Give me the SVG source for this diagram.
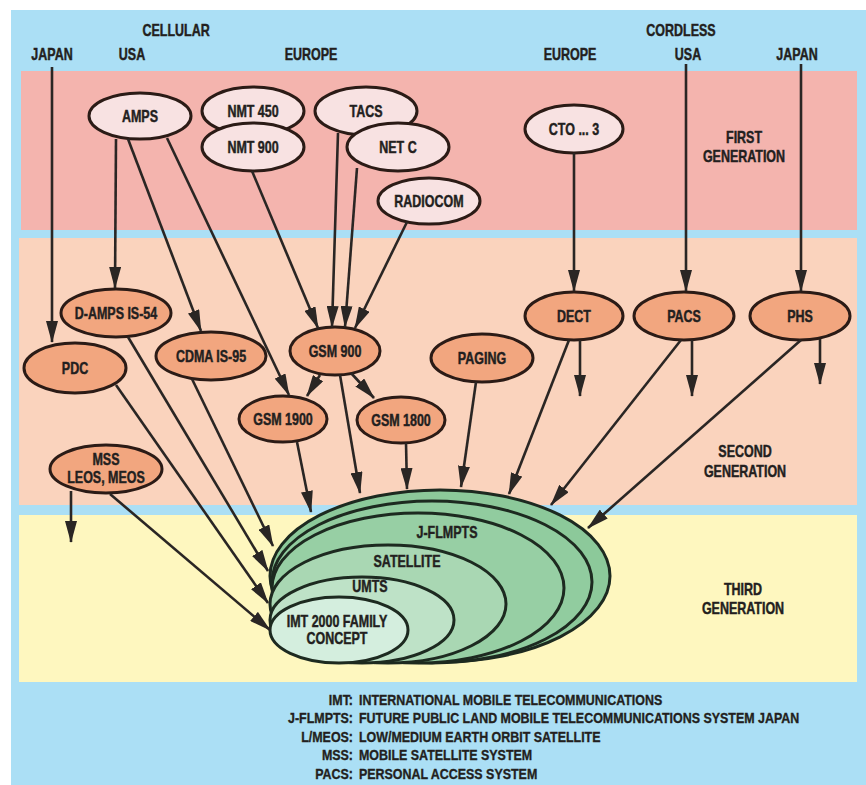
<svg xmlns="http://www.w3.org/2000/svg" width="866" height="785" viewBox="0 0 866 785">
  <defs>
    <style>
      text { font-family: "Liberation Sans", Arial, sans-serif; font-weight: bold; font-size: 16px; fill: #231f20;
             stroke: #231f20; stroke-width: 0.45px;
             transform-box: fill-box; transform-origin: center; transform: scaleX(0.78); }
      .c { text-anchor: middle; }
      .legend { font-size: 15px; stroke-width: 0.35px; transform-origin: left center; transform: scaleX(0.83); }
      .legend.end { transform-origin: right center; }
      .end { text-anchor: end; }
      .gen1 { fill: #f8e2e2; stroke: #2b1b16; stroke-width: 3; }
      .gen2 { fill: #f2a67f; stroke: #2b1b16; stroke-width: 3; }
      .ring { stroke: #1d2a20; stroke-width: 3; }
      .link { fill: none; stroke: #2a2624; stroke-width: 2.6; marker-end: url(#arrow); }
    </style>
    <marker id="arrow" markerUnits="userSpaceOnUse" markerWidth="22" markerHeight="12" viewBox="0 0 22 12" refX="21" refY="6" orient="auto">
      <path d="M0,0 L22,6 L0,12 z" fill="#2a2624"/>
    </marker>
  </defs>

  <!-- backdrop and generation bands -->
  <rect x="0" y="0" width="866" height="785" fill="#ffffff"/>
  <rect x="11" y="10" width="855" height="775" fill="#abdff5"/>
  <rect x="21" y="71" width="836" height="159" fill="#f4b4ae"/>
  <rect x="19" y="238" width="838" height="267" fill="#fad3bd"/>
  <rect x="19" y="515" width="838" height="167" fill="#fef7bf"/>

  <!-- column headings -->
  <g id="headings">
    <text class="c" x="176" y="36">CELLULAR</text>
    <text class="c" x="681" y="36">CORDLESS</text>
    <text class="c" x="52" y="60">JAPAN</text>
    <text class="c" x="132" y="60">USA</text>
    <text class="c" x="311" y="60">EUROPE</text>
    <text class="c" x="570" y="60">EUROPE</text>
    <text class="c" x="688" y="60">USA</text>
    <text class="c" x="797" y="60">JAPAN</text>
  </g>

  <!-- generation labels -->
  <g id="generation-labels">
    <text class="c" x="744" y="143">FIRST</text>
    <text class="c" x="744" y="162">GENERATION</text>
    <text class="c" x="745" y="457">SECOND</text>
    <text class="c" x="745" y="477">GENERATION</text>
    <text class="c" x="743" y="595">THIRD</text>
    <text class="c" x="743" y="614">GENERATION</text>
  </g>

  <!-- third generation: nested IMT-2000 family -->
  <g id="imt2000">
    <ellipse class="ring" cx="440" cy="576" rx="170" ry="86" fill="#8cc99a"/>
    <ellipse class="ring" cx="432" cy="582" rx="160" ry="81" fill="#91cc9f"/>
    <ellipse class="ring" cx="418" cy="588" rx="146" ry="75" fill="#97cfa4"/>
    <ellipse class="ring" cx="388" cy="604" rx="118" ry="59" fill="#a9d7b3"/>
    <ellipse class="ring" cx="362" cy="620" rx="92" ry="43" fill="#bee2c7"/>
    <ellipse class="ring" cx="339" cy="630" rx="69" ry="33" fill="#d4eede"/>
    <text class="c" x="447" y="538">J-FLMPTS</text>
    <text class="c" x="407" y="567">SATELLITE</text>
    <text class="c" x="370" y="592">UMTS</text>
    <text class="c" x="337" y="627">IMT 2000 FAMILY</text>
    <text class="c" x="337" y="644">CONCEPT</text>
  </g>

  <!-- first generation systems -->
  <g id="amps"><ellipse class="gen1" cx="140" cy="116" rx="51" ry="23"/><text class="c" x="140" y="122">AMPS</text></g>
  <g id="nmt450"><ellipse class="gen1" cx="253" cy="111" rx="51" ry="24"/><text class="c" x="253" y="117">NMT 450</text></g>
  <g id="nmt900"><ellipse class="gen1" cx="253" cy="147" rx="51" ry="24"/><text class="c" x="253" y="153">NMT 900</text></g>
  <g id="tacs"><ellipse class="gen1" cx="366" cy="111" rx="51" ry="24"/><text class="c" x="366" y="117">TACS</text></g>
  <g id="netc"><ellipse class="gen1" cx="398" cy="147" rx="51" ry="24"/><text class="c" x="398" y="153">NET C</text></g>
  <g id="radiocom"><ellipse class="gen1" cx="429" cy="201" rx="51" ry="23"/><text class="c" x="429" y="207">RADIOCOM</text></g>
  <g id="cto3"><ellipse class="gen1" cx="574" cy="129" rx="49" ry="24"/><text class="c" x="574" y="135">CTO ... 3</text></g>

  <!-- second generation systems -->
  <g id="damps"><ellipse class="gen2" cx="116" cy="313" rx="55" ry="24"/><text class="c" x="116" y="319">D-AMPS IS-54</text></g>
  <g id="pdc"><ellipse class="gen2" cx="75" cy="368" rx="51" ry="25"/><text class="c" x="75" y="374">PDC</text></g>
  <g id="cdma"><ellipse class="gen2" cx="211" cy="356" rx="55" ry="24"/><text class="c" x="211" y="362">CDMA IS-95</text></g>
  <g id="gsm900"><ellipse class="gen2" cx="335" cy="351" rx="45" ry="24"/><text class="c" x="335" y="357">GSM 900</text></g>
  <g id="gsm1900"><ellipse class="gen2" cx="283" cy="419" rx="44" ry="23"/><text class="c" x="283" y="425">GSM 1900</text></g>
  <g id="gsm1800"><ellipse class="gen2" cx="401" cy="420" rx="44" ry="23"/><text class="c" x="401" y="426">GSM 1800</text></g>
  <g id="mss"><ellipse class="gen2" cx="106" cy="469" rx="56" ry="24"/><text class="c" x="106" y="465">MSS</text><text class="c" x="106" y="483">LEOS, MEOS</text></g>
  <g id="paging"><ellipse class="gen2" cx="482" cy="358" rx="51" ry="24"/><text class="c" x="482" y="364">PAGING</text></g>
  <g id="dect"><ellipse class="gen2" cx="574" cy="316" rx="49" ry="24"/><text class="c" x="574" y="322">DECT</text></g>
  <g id="pacs"><ellipse class="gen2" cx="684" cy="316" rx="50" ry="24"/><text class="c" x="684" y="322">PACS</text></g>
  <g id="phs"><ellipse class="gen2" cx="800" cy="316" rx="50" ry="24"/><text class="c" x="800" y="322">PHS</text></g>

  <!-- connectors -->
  <g id="connectors">
    <line class="link" x1="52" y1="67" x2="52" y2="342"/>
    <line class="link" x1="686" y1="64" x2="686" y2="291"/>
    <line class="link" x1="801" y1="64" x2="801" y2="291"/>
    <line class="link" x1="116" y1="139" x2="115" y2="288"/>
    <line class="link" x1="128" y1="139" x2="201" y2="331"/>
    <line class="link" x1="167" y1="138" x2="289" y2="395"/>
    <line class="link" x1="252" y1="171" x2="318" y2="328"/>
    <line class="link" x1="338" y1="133" x2="332" y2="327"/>
    <line class="link" x1="357" y1="168" x2="345" y2="327"/>
    <line class="link" x1="407" y1="222" x2="355" y2="328"/>
    <line class="link" x1="574" y1="153" x2="574" y2="291"/>
    <line class="link" x1="320" y1="375" x2="307" y2="396"/>
    <line class="link" x1="351" y1="373" x2="374" y2="398"/>
    <line class="link" x1="340" y1="375" x2="360" y2="493"/>
    <line class="link" x1="297" y1="442" x2="311" y2="512"/>
    <line class="link" x1="406" y1="443" x2="407" y2="489"/>
    <line class="link" x1="476" y1="382" x2="461" y2="487"/>
    <line class="link" x1="569" y1="340" x2="509" y2="494"/>
    <line class="link" x1="681" y1="340" x2="551" y2="505"/>
    <line class="link" x1="801" y1="340" x2="588" y2="528"/>
    <line class="link" x1="580" y1="340" x2="580" y2="396"/>
    <line class="link" x1="692" y1="340" x2="692" y2="396"/>
    <line class="link" x1="820" y1="339" x2="820" y2="384"/>
    <line class="link" x1="71" y1="491" x2="71" y2="542"/>
    <line class="link" x1="192" y1="379" x2="273" y2="546"/>
    <line class="link" x1="128" y1="337" x2="268" y2="571"/>
    <line class="link" x1="116" y1="385" x2="268" y2="603"/>
    <line class="link" x1="110" y1="494" x2="270" y2="630"/>
  </g>

  <!-- abbreviations -->
  <g id="legend">
    <text class="legend end" x="353" y="705">IMT:</text>
    <text class="legend" x="359" y="705">INTERNATIONAL MOBILE TELECOMMUNICATIONS</text>
    <text class="legend end" x="353" y="723">J-FLMPTS:</text>
    <text class="legend" x="359" y="723">FUTURE PUBLIC LAND MOBILE TELECOMMUNICATIONS SYSTEM JAPAN</text>
    <text class="legend end" x="353" y="742">L/MEOS:</text>
    <text class="legend" x="359" y="742">LOW/MEDIUM EARTH ORBIT SATELLITE</text>
    <text class="legend end" x="353" y="760">MSS:</text>
    <text class="legend" x="359" y="760">MOBILE SATELLITE SYSTEM</text>
    <text class="legend end" x="353" y="779">PACS:</text>
    <text class="legend" x="359" y="779">PERSONAL ACCESS SYSTEM</text>
  </g>
</svg>
